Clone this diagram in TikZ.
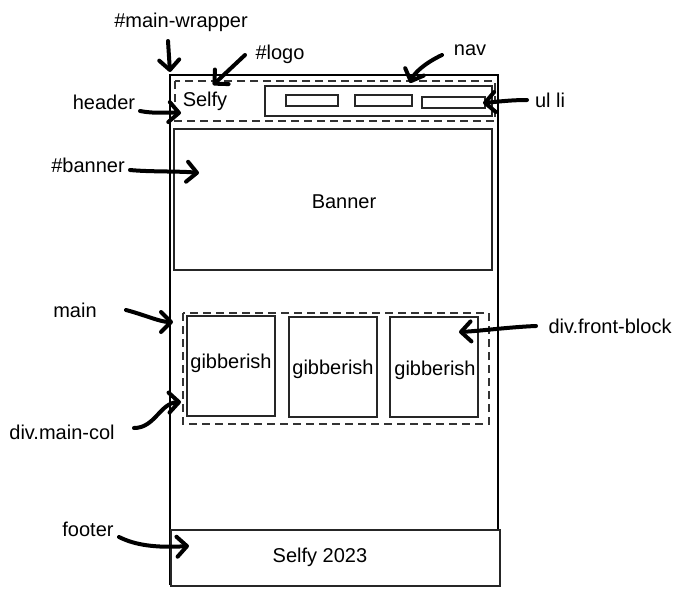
\documentclass[tikz,border=0pt]{standalone}
\usepackage{fontspec}
\setmainfont{Liberation Sans}
\usetikzlibrary{arrows.meta}
\begin{document}
\begin{tikzpicture}[x=1pt,y=-1pt,
  lbl/.style={font=\fontsize{20}{24}\selectfont, inner sep=0pt, anchor=center, yshift=-1pt},
  box/.style={draw=black!85, line width=1.3pt},
  dbox/.style={draw=black!80, line width=1.3pt, dash pattern=on 8pt off 5pt},
  hand/.style={line width=4pt, line cap=round, line join=round,
    -{Straight Barb[length=10pt,width=20pt,line cap=round,line join=round]}}]
\useasboundingbox (0,0) rectangle (683,595);
% wrapper
\draw[line width=1.3pt] (170,585) -- (170,75) -- (498,75) -- (498,529);
\node[box, line width=1.6pt, minimum width=329pt, minimum height=56pt, anchor=north west, inner sep=0pt] (footer) at (170,529) {};
\node[lbl] (footertxt) at (320,556) {Selfy 2023};
% header
\draw[dbox] (175,81) rectangle (495,121);
\node[lbl] (selfy) at (205,100) {Selfy};
\draw[box] (265,86) rectangle (492,116);
\draw[box, line width=1.1pt] (286,95) rectangle (338,106);
\draw[box, line width=1.1pt] (355,95) rectangle (412,106);
\draw[box, line width=1.1pt] (422,97) rectangle (485,108);
% banner
\draw[box] (174,129) rectangle (492,270);
\node[lbl] (banner) at (344,201) {Banner};
% main
\draw[dbox] (183,313) rectangle (489,424);
\draw[box] (187,316) rectangle (275,416);
\draw[box] (289,317) rectangle (377,417);
\draw[box] (390,317) rectangle (478,417);
\node[lbl] (g1) at (231,362) {gibberish};
\node[lbl] (g2) at (333,368) {gibberish};
\node[lbl] (g3) at (435,369) {gibberish};
% labels
\node[lbl] (lwrap) at (181,21) {\#main-wrapper};
\node[lbl] (llogo) at (280,53) {\#logo};
\node[lbl] (lnav) at (470,49) {nav};
\node[lbl] (lheader) at (104,101) {header};
\node[lbl] (lulli) at (550,99) {ul li};
\node[lbl] (lbanner) at (88,164) {\#banner};
\node[lbl] (lmain) at (75,309) {main};
\node[lbl] (lfront) at (610,325) {div.front-block};
\node[lbl] (lcol) at (62,431) {div.main-col};
\node[lbl] (lfooter) at (88,528) {footer};
% arrow end points
\coordinate (s1) at (168,41);  \coordinate (e1) at (170,72);
\coordinate (s2) at (245,55);  \coordinate (e2) at (213,85);
\coordinate (s3) at (442,55);  \coordinate (e3) at (410,83);
\coordinate (s4) at (140,111); \coordinate (e4) at (181,113);
\coordinate (s5) at (527,100); \coordinate (e5) at (483,103);
\coordinate (s6) at (130,170); \coordinate (e6) at (199,173);
\coordinate (s7) at (126,310); \coordinate (e7) at (173,322);
\coordinate (s8) at (536,326); \coordinate (e8) at (459,332);
\coordinate (s9) at (134,428); \coordinate (e9) at (181,402);
\coordinate (s10) at (119,537); \coordinate (e10) at (189,546);
\draw[hand] (s1) -- (e1);
\draw[hand] (s2) -- (e2);
\draw[hand] (s3) .. controls (425,63) and (414,73) .. (e3);
\draw[hand] (s4) .. controls (155,114) and (168,112) .. (e4);
\draw[hand] (s5) .. controls (510,100) and (495,102) .. (e5);
\draw[hand] (s6) .. controls (150,172) and (180,171) .. (e6);
\draw[hand] (s7) .. controls (145,315) and (160,322) .. (e7);
\draw[hand] (s8) .. controls (510,327) and (480,331) .. (e8);
\draw[hand] (s9) .. controls (155,428) and (160,403) .. (e9);
\draw[hand] (s10) .. controls (135,545) and (155,548) .. (e10);
\end{tikzpicture}
\end{document}
